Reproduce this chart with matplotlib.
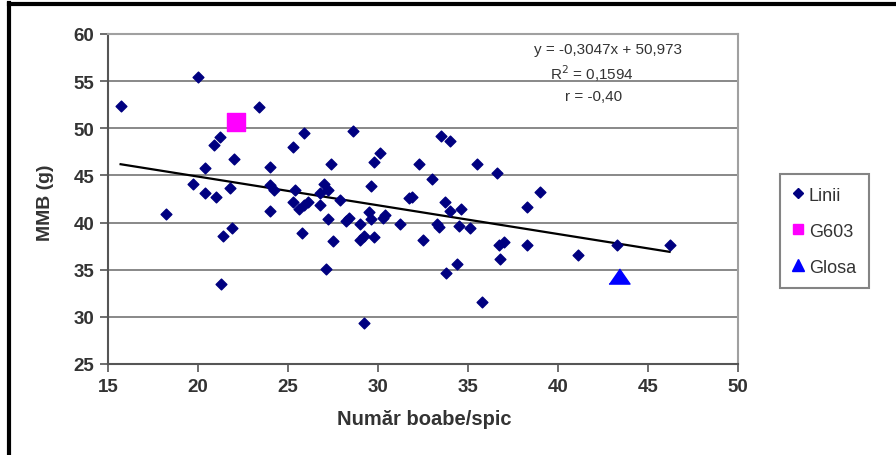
import numpy as np
import matplotlib.pyplot as plt
from matplotlib.lines import Line2D

plt.rcParams["font.family"] = ["Liberation Sans", "DejaVu Sans"]

# Linii (lines) - number of grains per spike vs MMB (g)
linii_x = [15.7, 20.0, 23.4, 21.2, 20.9, 22.0, 20.4, 19.7, 20.4, 21.0,
           21.8, 24.0, 25.3, 25.9, 24.0, 24.2, 25.4, 18.2, 21.9, 21.4,
           21.3, 24.0, 25.3, 25.6, 25.9, 25.8, 26.1, 26.8, 28.6, 33.5,
           34.0, 30.1, 29.8, 27.4, 32.3, 35.5, 36.6, 33.0, 29.6, 27.0,
           27.2, 26.8, 27.9, 31.7, 31.9, 33.7, 34.6, 34.0, 27.2, 28.2,
           28.4, 29.0, 29.5, 29.6, 30.3, 30.4, 31.2, 33.3, 33.4, 34.5,
           35.1, 27.5, 29.0, 29.2, 29.8, 32.5, 36.7, 37.0, 36.8, 34.4,
           33.8, 27.1, 35.8, 29.2, 39.0, 38.3, 38.3, 41.1, 43.3, 46.2]
linii_y = [52.4, 55.4, 52.3, 49.1, 48.2, 46.7, 45.8, 44.1, 43.1, 42.7,
           43.7, 45.9, 48.0, 49.5, 44.0, 43.5, 43.5, 40.9, 39.4, 38.6,
           33.5, 41.2, 42.2, 41.4, 41.9, 38.9, 42.2, 41.9, 49.7, 49.2,
           48.7, 47.4, 46.4, 46.2, 46.2, 46.2, 45.3, 44.6, 43.9, 44.1,
           43.5, 43.1, 42.4, 42.6, 42.7, 42.2, 41.4, 41.2, 40.4, 40.2,
           40.5, 39.9, 41.1, 40.4, 40.5, 40.8, 39.8, 39.9, 39.5, 39.6,
           39.4, 38.0, 38.1, 38.6, 38.5, 38.1, 37.6, 37.9, 36.1, 35.6,
           34.6, 35.1, 31.6, 29.3, 43.2, 41.7, 37.6, 36.6, 37.6, 37.6]
g603_x, g603_y = [22.1], [50.7]
glosa_x, glosa_y = [43.4], [34.3]

# trendline from the chart annotation
slope, intercept = -0.3047, 50.973

fig = plt.figure(figsize=(8.96, 4.56), dpi=100)
ax = fig.add_axes([108 / 896, 1 - 365 / 456, 630 / 896, 330 / 456])

txt = "#333333"
ax.set_xlim(15, 50)
ax.set_ylim(25, 60)
ax.set_xticks(np.arange(15, 51, 5))
ax.set_yticks(np.arange(25, 61, 5))
ax.grid(axis="y", color="#7f7f7f", linewidth=1.3)
ax.set_axisbelow(True)
ax.tick_params(direction="out", length=6, width=1.2, color="#555555",
               labelsize=13.5, labelcolor=txt, pad=4)
for lab in ax.get_xticklabels() + ax.get_yticklabels():
    lab.set_fontweight("bold")
for s in ["top", "right"]:
    ax.spines[s].set_color("#a0a0a0")
    ax.spines[s].set_linewidth(1.5)
for s in ["left", "bottom"]:
    ax.spines[s].set_color("#555555")
    ax.spines[s].set_linewidth(1.5)

ax.scatter(linii_x, linii_y, marker="D", s=30, color="#000080", zorder=3)
ax.scatter(g603_x, g603_y, marker="s", s=150, color="#ff00ff", zorder=3)
tri = [(-1, -0.72), (1, -0.72), (0, 0.72)]
ax.scatter(glosa_x, glosa_y, marker=tri, s=230, color="#0000ff", zorder=3)

xs = np.array([min(linii_x), max(linii_x)])
ax.plot(xs, slope * xs + intercept, color="black", linewidth=1.6, zorder=2)

ax.text((608 - 108) / 630, (365 - 50) / 330, "y = -0,3047x + 50,973",
        transform=ax.transAxes, ha="center", va="center", fontsize=11,
        color=txt)
ax.text((592 - 108) / 630, (365 - 74) / 330, "R$^2$ = 0,1594",
        transform=ax.transAxes, ha="center", va="center", fontsize=11,
        color=txt)
ax.text((594 - 108) / 630, (365 - 97) / 330, "r = -0,40",
        transform=ax.transAxes, ha="center", va="center", fontsize=11,
        color=txt)

fig.text(424 / 896, 1 - 420 / 456, "Număr boabe/spic", ha="center",
         va="center", fontsize=14.5, fontweight="bold", color=txt)
fig.text(45 / 896, 1 - 203 / 456, "MMB (g)", ha="center", va="center",
         rotation=90, fontsize=14, fontweight="bold", color=txt)

handles = [
    Line2D([], [], marker="D", color="#000080", linestyle="none", markersize=5),
    Line2D([], [], marker="s", color="#ff00ff", linestyle="none", markersize=7),
    Line2D([], [], marker="^", color="#0000ff", linestyle="none", markersize=8),
]
leg = fig.legend(handles, ["Linii", "G603", "Glosa"], loc="upper left",
                 bbox_to_anchor=(780 / 896, 1 - 175 / 456), fontsize=13,
                 labelspacing=1.05, handlelength=0.6, handletextpad=0.3,
                 borderpad=0.7, fancybox=False, borderaxespad=0)
leg.get_frame().set_edgecolor("#666666")
leg.get_frame().set_linewidth(1.5)
for t in leg.get_texts():
    t.set_color(txt)

# outer black frame
fig.add_artist(Line2D([9 / 896, 9 / 896], [0, 1 - 4 / 456],
                      transform=fig.transFigure, color="black", linewidth=3))
fig.add_artist(Line2D([9 / 896, 1], [1 - 5 / 456, 1 - 5 / 456],
                      transform=fig.transFigure, color="black", linewidth=3))

fig.savefig("out.png", dpi=100)
